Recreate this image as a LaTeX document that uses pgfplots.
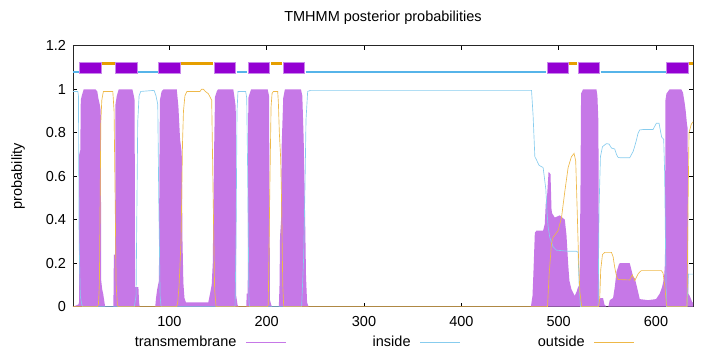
\documentclass[border=0pt]{standalone}
\usepackage{fontspec}
\setmainfont{Liberation Sans}
\usepackage{pgfplots}
\pgfplotsset{compat=1.18}
\definecolor{tmfill}{RGB}{198,120,231}
\definecolor{tmdark}{RGB}{148,0,211}
\definecolor{tmedge}{RGB}{200,135,235}
\definecolor{inbar}{RGB}{86,180,233}
\definecolor{outbar}{RGB}{230,159,0}
\definecolor{inline}{RGB}{135,204,238}
\definecolor{outline}{RGB}{238,184,72}
\begin{document}
\fontsize{14.5bp}{17bp}\selectfont
\begin{tikzpicture}
\useasboundingbox (-73bp,-45.3bp) rectangle (647bp,306.7bp);
\begin{axis}[
  at={(0,0)}, anchor=south west,
  scale only axis, width=620bp, height=260.9bp,
  xmin=1, xmax=638, ymin=0, ymax=1.2,
  xtick={100,200,300,400,500,600},
  ytick={0,0.2,0.4,0.6,0.8,1,1.2},
  tick align=inside, major tick length=4bp,
  tick style={black, line width=0.6bp},
  axis line style={line width=0.8bp, black!85},
  /pgf/number format/assume math mode=true,
  yticklabel style={xshift=-2bp},
  xticklabel style={yshift=-5bp},
  ylabel={probability},
  title={TMHMM posterior probabilities},
  every axis title/.style={at={(0.5,1)}, anchor=center, yshift=27.8bp},
  every axis y label/.style={at={(axis description cs:-0.0887,0.5)}, rotate=90, anchor=center},
  legend columns=3, legend plot pos=right,
  legend style={draw=none, fill=none, inner sep=0pt, outer sep=0pt,
    at={(axis description cs:0.07,-0.135)}, anchor=west,
    nodes={text width=120bp, align=right, inner xsep=0pt, inner ysep=3bp},
    /tikz/every odd column/.append style={column sep=9.3bp},
    /tikz/every even column/.append style={column sep=4.5bp}},
  legend image code/.code={\draw[#1] (0bp,0bp) -- (39.6bp,0bp);},
  unbounded coords=jump,
]
% transmembrane posterior (filled)
\addplot[forget plot, fill=tmfill, draw=none] coordinates {
(1,0) (6.5,0.01) (7.2,0.02) (7.4,0.70) (8.5,0.72) (9,0.95) (10,0.97) (12,1) (24,1) (26,0.99) (27,0.96) (28.5,0.93) (29.5,0.9) (30,0.12) (31,0.08) (32,0.06) (33,0.03) (34,0)
(42.5,0) (43,0.24) (44.3,0.24) (44.6,0.93) (46,0.97) (48,1) (62,1) (63.5,0.97) (64.3,0.95) (64.8,0.09) (68.2,0.09) (68.9,0.02) (69.5,0)
(85.5,0) (86.3,0.04) (87.5,0.08) (89.3,0.12) (89.7,0.6) (90.3,0.95) (92,0.99) (94,1) (107.6,1) (109.3,0.92) (111,0.77) (112.7,0.71) (113.5,0.3) (114.4,0.11) (115.5,0.04) (117,0.02)
(140,0.02) (141.8,0.06) (143.5,0.1) (144.6,0.2) (145.9,0.7) (146.9,0.965) (148.7,0.99) (150,1) (165.7,1) (166.7,0.97) (168.2,0.92) (168.7,0.05) (170,0.01) (171,0)
(179,0) (179.5,0.06) (180.5,0.06) (181.1,0.96) (182.5,0.98) (184,1) (201,1) (202.4,0.97) (203.4,0.03) (204.5,0.01) (205.5,0)
(212.5,0) (213.2,0.1) (213.7,0.32) (214.8,0.4) (215.4,0.74) (217,0.96) (218.7,1) (235.2,1) (236.6,0.97) (238,0.77) (239.3,0.46) (240.4,0.14) (241.5,0.02) (243,0)
(471.5,0) (472.1,0.02) (473.1,0.05) (474,0.15) (475.5,0.34) (477.2,0.35) (484,0.35) (485.7,0.38) (486.8,0.48) (488.1,0.51) (489.6,0.62) (491.6,0.61) (492.6,0.45) (493.2,0.43) (496,0.41) (501.1,0.42) (506.3,0.4) (508,0.33) (509.7,0.2) (511,0.12) (513.1,0.08) (516.5,0.05) (518.5,0.07) (519.9,0.09) (521.5,0.1)
(522.4,0.55) (523,0.98) (525,1) (538.8,1) (539.8,0.97) (540.8,0.85) (541.5,0.03) (543,0.04) (545.6,0.04) (547,0.01) (549,0) (551,0) (552.5,0.03) (555.9,0.04) (557.6,0.09) (559.4,0.16) (562,0.196) (563,0.2) (573,0.2) (574.7,0.17) (576.4,0.14) (578.2,0.13) (579.9,0.1) (581.5,0.07) (583.3,0.035) (591.8,0.03) (600,0.035) (603.8,0.06) (606.2,0.09) (608.2,0.13) (609.2,0.2)
(609.7,0.95) (610.7,0.98) (614,1) (626,1) (627.7,0.985) (629.5,0.935) (630.5,0.9) (631.8,0.84) (632.5,0.82) (633.2,0.06) (634.6,0.05) (637.3,0.02) (638,0.02)
} \closedcycle;
\addlegendimage{color=tmfill, line width=0.8bp}
\addlegendentry{transmembrane}
% inside
\addplot[inline, line width=0.65bp] coordinates {
(1,0.99) (6,0.99) (6.6,0.97) (7.3,0.3) (8.5,0.05) (10,0.01) (11,0) (64,0) (65.8,0.05) (67.5,0.85) (68.9,0.97) (70.6,0.99) (84.3,0.995) (86.3,0.97) (88.1,0.93) (89.1,0.5) (90.5,0.05) (91.5,0)
(167.5,0) (168.5,0.3) (169.5,0.9) (170.5,0.99) (178.4,0.99) (179.5,0.96) (180.5,0.6) (181.8,0.02) (182.5,0) (235.9,0) (238,0.23) (239.3,0.54) (240.4,0.86) (242.1,0.99) (245,0.995)
(472.1,0.995) (473.7,0.88) (475.5,0.69) (477.2,0.675) (479.9,0.65) (484,0.64) (485.7,0.58) (486.8,0.54) (488.1,0.43) (489.1,0.37) (490.8,0.32) (494.3,0.275) (497.7,0.26) (510,0.255) (518.3,0.255) (519.9,0.25) (521,0.1) (522.4,0)
(540.5,0) (541.5,0.46) (542.9,0.69) (545,0.736) (549,0.75) (551.7,0.748) (554.2,0.73) (557.6,0.725) (559.4,0.7) (561,0.687) (563,0.685) (573,0.685) (574.7,0.7) (576.4,0.713) (578.2,0.739) (579.9,0.767) (581.5,0.797) (583.3,0.813) (586.7,0.815) (597,0.815) (598.7,0.83) (600.4,0.844) (603.1,0.844) (604.5,0.81) (605.8,0.78) (607.9,0.77) (608.9,0.61) (609.7,0.3) (610.7,0)
(631.8,0) (633.2,0.15) (638,0.15)
};
\addlegendentry{inside}
% outside
\addplot[outline, line width=0.65bp] coordinates {
(1,0) (26,0) (27.1,0.01) (28.1,0.1) (29.6,0.85) (30.6,0.95) (32.2,0.99) (41.9,0.99) (43.2,0.9) (44.3,0.5) (45.3,0.1) (46.6,0.01) (47.5,0)
(107.5,0) (108.6,0.02) (110,0.1) (112,0.3) (113.5,0.75) (114.5,0.9) (116,0.97) (118,0.99) (131.5,0.99) (133,1) (135,1) (137,0.99) (140,0.98) (143.5,0.95) (145,0.5) (146.5,0.08) (148,0)
(201,0) (201.6,0.01) (203.4,0.6) (204.5,0.92) (205.5,0.98) (206.8,0.99) (211.3,0.99) (212,0.94) (213,0.8) (214.4,0.68) (215.4,0.46) (216.5,0.1) (217.5,0)
(488.5,0) (490.2,0.15) (492.6,0.29) (494.3,0.32) (497,0.335) (499.4,0.35) (502.9,0.41) (506.3,0.53) (509.7,0.64) (513.1,0.69) (515.8,0.705) (517.5,0.67) (518.9,0.46) (520.3,0.24) (521.7,0.07) (523.7,0)
(541,0) (542.2,0.04) (543.2,0.17) (545,0.24) (547.3,0.25) (554.2,0.25) (555.9,0.23) (557.6,0.18) (559.4,0.14) (561,0.125) (573,0.123) (575.7,0.146) (578.2,0.12) (581.5,0.15) (583.3,0.16) (585,0.166) (605.5,0.166) (607.2,0.155) (608.9,0.1) (610.7,0.01) (611.5,0)
(631.8,0) (632.9,0.46) (633.9,0.8) (636.3,0.84) (638,0.85)
};
\addlegendentry{outside}
% topology bar: inside segments
\addplot[forget plot, inbar, line width=2.5bp] coordinates {
(1,1.079) (7,1.079) (7.5,nan) (68,1.079) (88,1.079) (88.5,nan) (169,1.079) (180,1.079) (180.5,nan) (240,1.079) (487,1.079) (487.5,nan) (543,1.079) (610,1.079)
};
% topology bar: outside segments
\addplot[forget plot, outbar, line width=2.7bp] coordinates {
(31,1.118) (44,1.118) (44.5,nan) (112,1.118) (145,1.118) (145.5,nan) (204,1.118) (216,1.118) (216.5,nan) (511,1.118) (519,1.118) (519.5,nan) (634,1.118) (638,1.118)
};
% topology bar: transmembrane helices
\addplot[forget plot, fill=tmdark, draw=tmedge, line width=0.7bp] coordinates {(8,1.075) (30,1.075) (30,1.122) (8,1.122)} -- cycle;
\addplot[forget plot, fill=tmdark, draw=tmedge, line width=0.7bp] coordinates {(45,1.075) (67,1.075) (67,1.122) (45,1.122)} -- cycle;
\addplot[forget plot, fill=tmdark, draw=tmedge, line width=0.7bp] coordinates {(89,1.075) (111,1.075) (111,1.122) (89,1.122)} -- cycle;
\addplot[forget plot, fill=tmdark, draw=tmedge, line width=0.7bp] coordinates {(146,1.075) (168,1.075) (168,1.122) (146,1.122)} -- cycle;
\addplot[forget plot, fill=tmdark, draw=tmedge, line width=0.7bp] coordinates {(181,1.075) (203,1.075) (203,1.122) (181,1.122)} -- cycle;
\addplot[forget plot, fill=tmdark, draw=tmedge, line width=0.7bp] coordinates {(217,1.075) (239,1.075) (239,1.122) (217,1.122)} -- cycle;
\addplot[forget plot, fill=tmdark, draw=tmedge, line width=0.7bp] coordinates {(488,1.075) (510,1.075) (510,1.122) (488,1.122)} -- cycle;
\addplot[forget plot, fill=tmdark, draw=tmedge, line width=0.7bp] coordinates {(520,1.075) (542,1.075) (542,1.122) (520,1.122)} -- cycle;
\addplot[forget plot, fill=tmdark, draw=tmedge, line width=0.7bp] coordinates {(611,1.075) (633,1.075) (633,1.122) (611,1.122)} -- cycle;
\end{axis}
\end{tikzpicture}
\end{document}
